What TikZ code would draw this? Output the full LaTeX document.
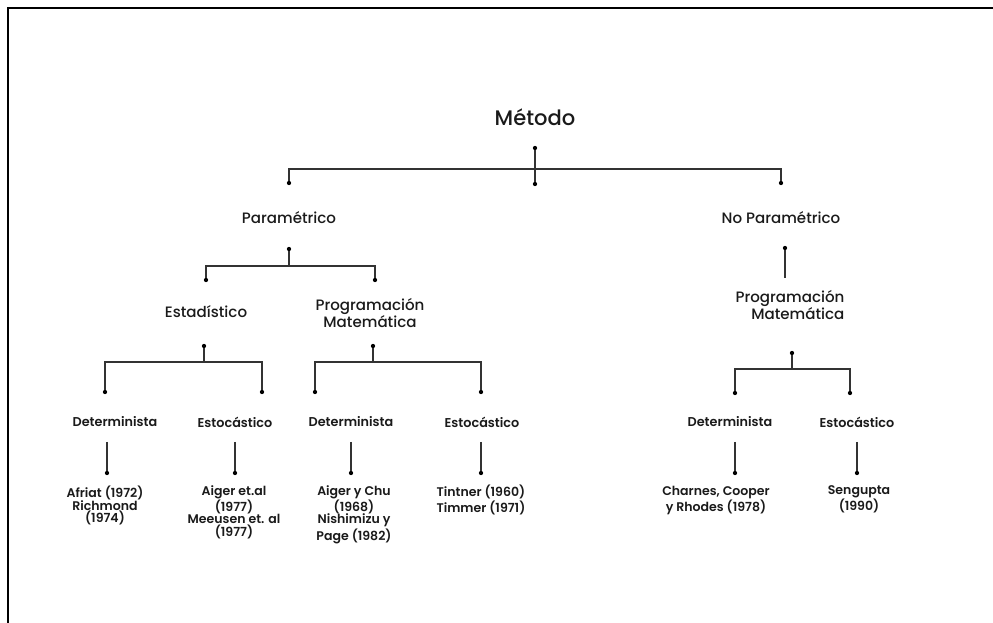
\documentclass[tikz,border=0pt]{standalone}
\usepackage{fontspec}
\setmainfont{Poppins}
\newfontfamily\medfont{Poppins Medium}
\newfontfamily\semifont{Poppins SemiBold}
\definecolor{ink}{HTML}{1A1A1A}
\definecolor{wirecol}{HTML}{333333}
\begin{document}
\begin{tikzpicture}[
    x=0.75pt, y=-0.75pt,
    every node/.style={text=ink, inner sep=0pt},
    bullet/.style={circle, fill=black, minimum size=3.2pt},
    lvlone/.style={font=\medfont\fontsize{15.8}{17}\selectfont},
    lvltwo/.style={font=\medfont\fontsize{11.3}{12}\selectfont, align=center},
    lvlthree/.style={font=\semifont\fontsize{9.6}{11}\selectfont},
    refs/.style={font=\semifont\fontsize{9.4}{9.3}\selectfont, align=center, anchor=north},
    wire/.style={draw=wirecol, line width=1.1pt},
]
  \useasboundingbox (0,0) rectangle (993,623);
  \draw[line width=1.6pt] (993,8) -- (8,8) -- (8,623);

  % top level
  \node[lvlone]  (metodo)  at (535,117) {Método};
  \node[bullet]  (mtop)    at (535,148) {};
  \node[bullet]  (mbot)    at (535,184) {};
  \coordinate    (mbar)    at (535,169);
  \node[bullet]  (pin)     at (289,183) {};
  \node[bullet]  (npin)    at (781,183) {};
  \draw[wire] (mtop) -- (mbot);
  \draw[wire] (pin) |- (mbar) -| (npin);

  \node[lvltwo]  (param)   at (289,218) {Paramétrico};
  \node[lvltwo]  (noparam) at (781,218) {No Paramétrico};

  % second level
  \node[bullet]  (pout)    at (289,249) {};
  \coordinate    (pbar)    at (289,266);
  \node[bullet]  (estin)   at (206,280) {};
  \node[bullet]  (pmin)    at (375,280) {};
  \draw[wire] (pout) -- (pbar);
  \draw[wire] (estin) |- (pbar) -| (pmin);
  \node[bullet]  (npout)   at (785,248) {};
  \coordinate    (npend)   at (785,278);
  \draw[wire] (npout) -- (npend);

  \node[lvltwo]  (estad)     at (206,312) {Estadístico};
  \node[lvltwo]  (progmat)   at (370,313) {Programación\\Matemática};
  \node[lvltwo, align=right] (npprogmat) at (790,305) {Programación\\Matemática};

  % third level
  \node[bullet]  (eout)    at (204,346) {};
  \coordinate    (ebar)    at (204,362);
  \node[bullet]  (edin)    at (105,392) {};
  \node[bullet]  (esin)    at (262,392) {};
  \draw[wire] (eout) -- (ebar);
  \draw[wire] (edin) |- (ebar) -| (esin);

  \node[bullet]  (pmout)   at (373,346) {};
  \coordinate    (pmbar)   at (373,362);
  \node[bullet]  (pmdin)   at (315,392) {};
  \node[bullet]  (pmsin)   at (481,392) {};
  \draw[wire] (pmout) -- (pmbar);
  \draw[wire] (pmdin) |- (pmbar) -| (pmsin);

  \node[bullet]  (nout)    at (792,353) {};
  \coordinate    (nbar)    at (792,369);
  \node[bullet]  (ndin)    at (735,393) {};
  \node[bullet]  (nsin)    at (850,393) {};
  \draw[wire] (nout) -- (nbar);
  \draw[wire] (ndin) |- (nbar) -| (nsin);

  \node[lvlthree] (detone)   at (115,422) {Determinista};
  \node[lvlthree] (estone)   at (235,422) {Estocástico};
  \node[lvlthree] (dettwo)   at (351,422) {Determinista};
  \node[lvlthree] (esttwo)   at (482,422) {Estocástico};
  \node[lvlthree] (detthree) at (730,422) {Determinista};
  \node[lvlthree] (estthree) at (857,422) {Estocástico};

  % authors
  \foreach \nm/\xx in {a/107, b/235, c/351, d/481, e/735, f/857} {
    \coordinate    (top\nm) at (\xx,442);
    \node[bullet]  (dot\nm) at (\xx,473) {};
    \draw[wire] (top\nm) -- (dot\nm);
  }
  \node[refs] (afriat)   at (105,486) {Afriat (1972)\\Richmond\\(1974)};
  \node[refs] (aiger)    at (234,485) {Aiger et.al\\(1977)\\Meeusen et. al\\(1977)};
  \node[refs] (aigerchu) at (354,485) {Aiger y Chu\\(1968)\\Nishimizu y\\Page (1982)};
  \node[refs] (tintner)  at (481,485) {Tintner (1960)\\Timmer (1971)};
  \node[refs] (charnes)  at (716,486) {Charnes, Cooper\\y Rhodes (1978)};
  \node[refs] (sengupta) at (859,485) {Sengupta\\(1990)};
\end{tikzpicture}
\end{document}
